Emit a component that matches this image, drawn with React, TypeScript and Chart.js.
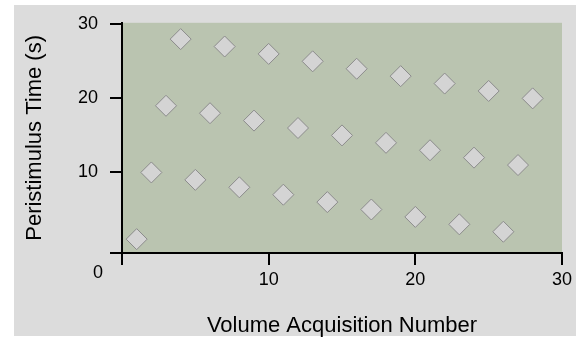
import React, { useEffect, useRef } from "react";
import { Chart, registerables } from "chart.js";

Chart.register(...registerables);

const volumeNumbers = [1,2,3,4,5,6,7,8,9,10,11,12,13,14,15,16,17,18,19,20,21,22,23,24,25,26,27,28];
const peristimulusTimes = [1,10,19,28,9,18,27,8,17,26,7,16,25,6,15,24,5,14,23,4,13,22,3,12,21,2,11,20];
const xTickValues = [0, 10, 20, 30];
const yTickValues = [10, 20, 30];
const xTitle = "Volume Acquisition Number";
const yTitle = "Peristimulus Time (s)";
const originLabel = "0";

const Y_MIN = -0.87;
const Y_MAX = 30.2;
const FONT = "'Liberation Sans', Arial, sans-serif";

const bgPlugin = {
  id: "bgPlugin",
  beforeDraw(chart: any) {
    const { ctx, chartArea } = chart;
    ctx.save();
    ctx.fillStyle = "#ffffff";
    ctx.fillRect(0, 0, chart.width, chart.height);
    ctx.fillStyle = "#dcdcdc";
    ctx.fillRect(14, 5, 562, 331);
    ctx.fillStyle = "#bac4b0";
    ctx.fillRect(chartArea.left, chartArea.top, chartArea.right - chartArea.left, chartArea.bottom - chartArea.top);
    ctx.restore();
  },
  afterDraw(chart: any) {
    const { ctx } = chart;
    ctx.save();
    ctx.fillStyle = "#000";
    ctx.font = `18px ${FONT}`;
    ctx.textAlign = "center";
    ctx.textBaseline = "middle";
    ctx.fillText(originLabel, 98, 273);
    ctx.restore();
  },
};

export default function App() {
  const ref = useRef<HTMLCanvasElement | null>(null);
  useEffect(() => {
    document.body.style.margin = "0";
    const canvas = ref.current!;
    const chart = new Chart(canvas, {
      type: "scatter",
      data: {
        datasets: [
          {
            data: volumeNumbers.map((x, i) => ({ x, y: peristimulusTimes[i] })),
            pointStyle: "rectRot",
            pointRadius: 10.5,
            pointHoverRadius: 10.5,
            backgroundColor: "#d4d4d4",
            borderColor: "#8c8c8c",
            borderWidth: 1,
          },
        ],
      },
      options: {
        responsive: false,
        animation: false,
        events: [],
        layout: { padding: { top: 20, right: 18, left: 0, bottom: 0 } },
        plugins: { legend: { display: false }, tooltip: { enabled: false } },
        scales: {
          x: {
            type: "linear",
            min: 0,
            max: 30,
            afterFit(scale: any) {
              scale.height = 86;
            },
            afterBuildTicks(scale: any) {
              scale.ticks = xTickValues.map((v) => ({ value: v }));
            },
            ticks: {
              callback: (v: any) => (v === 0 ? "" : String(v)),
              font: { family: FONT, size: 18 },
              color: "#000",
              padding: 4,
              maxRotation: 0,
              autoSkip: false,
            },
            grid: { drawOnChartArea: false, drawTicks: true, tickLength: 12, color: "#000", lineWidth: 2 },
            border: { display: true, color: "#000", width: 2 },
            title: {
              display: true,
              text: xTitle,
              color: "#000",
              font: { family: FONT, size: 22 },
              padding: { top: 0, bottom: 0 },
            },
          },
          y: {
            type: "linear",
            min: Y_MIN,
            max: Y_MAX,
            afterFit(scale: any) {
              scale.width = 122;
            },
            afterBuildTicks(scale: any) {
              scale.ticks = [{ value: Y_MIN }, ...yTickValues.map((v) => ({ value: v }))];
            },
            ticks: {
              callback: (v: any) => (v < 1 ? "" : String(v)),
              font: { family: FONT, size: 18 },
              color: "#000",
              padding: 12,
              autoSkip: false,
            },
            grid: { drawOnChartArea: false, drawTicks: true, tickLength: 12, color: "#000", lineWidth: 2 },
            border: { display: true, color: "#000", width: 2 },
            title: {
              display: true,
              text: yTitle,
              color: "#000",
              font: { family: FONT, size: 22 },
              padding: { top: 22, bottom: 0 },
            },
          },
        },
      },
      plugins: [bgPlugin],
    });
    return () => chart.destroy();
  }, []);
  return (
    <div style={{ position: "fixed", left: 0, top: 0, width: 580, height: 339 }}>
      <canvas ref={ref} width={580} height={339} style={{ display: "block" }} />
    </div>
  );
}
